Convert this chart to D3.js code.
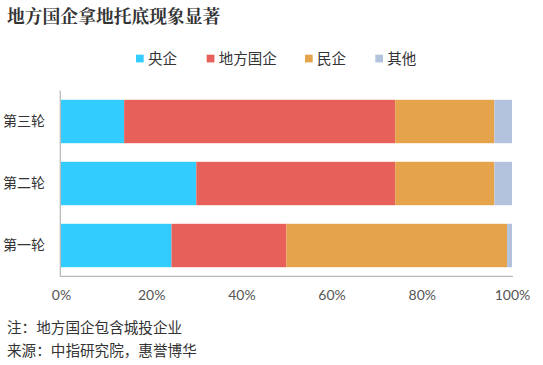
<!DOCTYPE html>
<html><head><meta charset="utf-8">
<script src="https://cdn.jsdelivr.net/npm/d3@7"></script>
<style>body{margin:0;background:#fff}</style>
</head><body>
<svg id="c" width="543" height="365"></svg>
<script>
const categories = ["第三轮", "第二轮", "第一轮"];
const seriesNames = ["央企", "地方国企", "民企", "其他"];
const yangqi = [14, 30, 24.5];
const difang = [60.1, 44.1, 25.5];
const minqi = [22, 22, 48.9];
const qita = [3.9, 3.9, 1.1];
const tickValues = [0, 0.2, 0.4, 0.6, 0.8, 1.0];
const colors = ["#33CCFF", "#E8605A", "#E5A44C", "#B4C3DD"];

const svg = d3.select("#c");
const font = "'Noto Sans CJK SC', sans-serif";
const x = d3.scaleLinear().domain([0, 1]).range([61, 512]);
const y = d3.scaleBand().domain(categories).range([91, 276]).paddingInner(0.3).paddingOuter(0.142);

const rows = categories.map((c, i) => ({cat: c, "央企": yangqi[i], "地方国企": difang[i], "民企": minqi[i], "其他": qita[i]}));
rows.forEach(r => { const t = seriesNames.reduce((s, k) => s + r[k], 0); seriesNames.forEach(k => r[k] = r[k] / t); });
const stack = d3.stack().keys(seriesNames)(rows);

svg.append("text").attr("x", 7).attr("y", 23).text("地方国企拿地托底现象显著")
  .attr("font-family", "'Noto Serif CJK SC','Noto Sans CJK SC',serif").attr("font-weight", "bold")
  .attr("font-size", 17.8).attr("fill", "#333");

stack.forEach((s, si) => {
  svg.append("g").selectAll("rect").data(s).join("rect")
    .attr("x", d => x(d[0])).attr("width", d => x(d[1]) - x(d[0]))
    .attr("y", d => y(d.data.cat)).attr("height", y.bandwidth())
    .attr("fill", colors[si]);
});

// axes lines
svg.append("line").attr("x1", 60.3).attr("x2", 60.3).attr("y1", 90.5).attr("y2", 276.3).attr("stroke", "#bbb").attr("stroke-width", 1.3);
svg.append("line").attr("x1", 59.7).attr("x2", x(1) + 1).attr("y1", 276.3).attr("y2", 276.3).attr("stroke", "#bbb").attr("stroke-width", 1.3);

const xa = svg.append("g").attr("transform", "translate(0,276.3)")
  .call(d3.axisBottom(x).tickValues(tickValues).tickFormat(d3.format(".0%")).tickSize(0).tickPadding(13.5));
xa.select(".domain").remove();
xa.selectAll("text").attr("font-family", "Lato, sans-serif").attr("font-size", 14).attr("fill", "#555");

const ya = svg.append("g").attr("transform", "translate(60,0)")
  .call(d3.axisLeft(y).tickSize(0).tickPadding(15));
ya.select(".domain").remove();
ya.selectAll("text").attr("font-family", font).attr("font-size", 14).attr("fill", "#333");

const legX = [136, 206.7, 305, 375.3];
const lg = svg.append("g");
seriesNames.forEach((n, i) => {
  lg.append("rect").attr("x", legX[i]).attr("y", 54.7).attr("width", 7.7).attr("height", 7.7).attr("fill", colors[i]);
  lg.append("text").attr("x", legX[i] + 12).attr("y", 64).text(n)
    .attr("font-family", font).attr("font-size", 14.5).attr("fill", "#333");
});

svg.append("text").attr("x", 7).attr("y", 333).text("注：地方国企包含城投企业").attr("font-family", font).attr("font-size", 14.6).attr("fill", "#333");
svg.append("text").attr("x", 7).attr("y", 356).text("来源：中指研究院，惠誉博华").attr("font-family", font).attr("font-size", 14.6).attr("fill", "#333");
</script>
</body></html>
